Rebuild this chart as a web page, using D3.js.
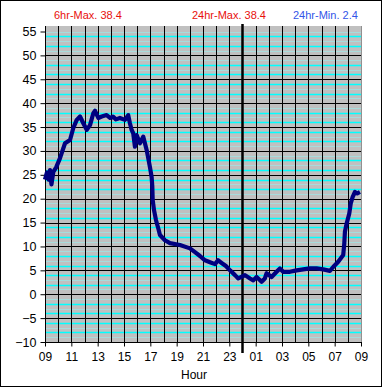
<!DOCTYPE html>
<html>
<head>
<meta charset="utf-8">
<script src="https://cdn.jsdelivr.net/npm/d3@7"></script>
<style>
  body { margin: 0; background: #fff; }
  svg { display: block; font-family: "Liberation Sans", Arial, sans-serif; }
</style>
</head>
<body>
<div id="chart"></div>
<script>
// hours since 09:00 and temperature readings
const hours = [0.00, 0.15, 0.27, 0.38, 0.49, 0.63, 0.84, 1.14, 1.52, 1.90, 2.15, 2.41, 2.66, 2.91, 3.17, 3.42,
  3.67, 3.80, 4.05, 4.31, 4.68, 4.94, 5.16, 5.39, 5.69, 6.07, 6.32, 6.45, 6.58, 6.70, 6.83, 6.96, 7.21, 7.46,
  7.59, 7.72, 7.84, 7.97, 8.10, 8.15, 8.18, 8.28, 8.43, 8.60, 8.73, 9.11, 9.49, 10.25, 11.01, 11.39, 11.77,
  12.15, 12.53, 12.91, 13.14, 13.44, 13.74, 14.05, 14.43, 14.68, 15.19, 15.57, 15.82, 16.07, 16.45, 16.70,
  16.83, 17.21, 17.59, 17.84, 18.09, 18.60, 19.11, 19.61, 20.12, 20.63, 21.13, 21.64, 21.89, 22.27, 22.65,
  22.73, 22.78, 22.91, 23.11, 23.22, 23.37, 23.54, 23.72, 23.92]
const temps = [24.0, 25.5, 24.0, 26.0, 23.0, 25.6, 26.5, 28.5, 31.6, 32.3, 34.8, 36.5, 37.2, 35.8, 34.4, 35.4,
  37.9, 38.4, 36.9, 37.2, 37.5, 36.9, 37.2, 36.6, 36.9, 36.5, 37.5, 35.8, 34.4, 33.7, 30.9, 33.3, 31.6, 33.0,
  31.6, 30.2, 28.5, 26.6, 24.5, 22.5, 19.7, 17.6, 15.5, 13.8, 12.4, 11.3, 10.7, 10.3, 9.6, 8.8, 8.0,
  7.1, 6.7, 6.3, 7.1, 6.5, 5.9, 5.0, 4.0, 3.3, 4.0, 3.3, 2.9, 3.6, 2.6, 3.3,
  4.4, 3.6, 4.7, 5.4, 4.7, 4.7, 5.0, 5.2, 5.4, 5.4, 5.2, 4.9, 5.7, 6.8, 8.2,
  10.6, 13.1, 14.8, 16.9, 19.0, 20.4, 21.4, 21.1, 21.4]

const xTickHours = [0, 2, 4, 6, 8, 10, 12, 14, 16, 18, 20, 22, 24]
const xTickLabels = ["09", "11", "13", "15", "17", "19", "21", "23", "01", "03", "05", "07", "09"]
const yTicks = [-10, -5, 0, 5, 10, 15, 20, 25, 30, 35, 40, 45, 50, 55]
const midnight = 15

const headers = [
  { text: "6hr-Max. 38.4", x: 54, color: "#e8100c" },
  { text: "24hr-Max. 38.4", x: 192, color: "#e8100c" },
  { text: "24hr-Min. 2.4", x: 293, color: "#3355e8" },
]

const width = 385, height = 388
const plot = { left: 45, right: 361, top: 26, bottom: 342 }

const svg = d3.select("#chart").append("svg")
  .attr("width", width)
  .attr("height", height)

svg.append("rect")
  .attr("x", 0.5).attr("y", 0.5)
  .attr("width", 381).attr("height", 386)
  .attr("fill", "#fff").attr("stroke", "#000")

const x = d3.scaleLinear().domain([0, 24]).range([plot.left, plot.right])
const y = d3.scaleLinear().domain([-10, 55]).range([plot.bottom, 31.5])

// plot background
svg.append("rect")
  .attr("x", plot.left).attr("y", plot.top)
  .attr("width", plot.right - plot.left).attr("height", plot.bottom - plot.top)
  .attr("fill", "#c0c0c0")

// minor horizontal lines
const minor = d3.range(-9, 56).filter(v => v % 5 !== 0 || v === 55)
svg.append("g")
  .selectAll("line")
  .data(minor)
  .join("line")
    .attr("x1", plot.left).attr("x2", plot.right)
    .attr("y1", d => Math.round(y(d)) + 0.5).attr("y2", d => Math.round(y(d)) + 0.5)
    .attr("stroke", d => d % 2 === 0 ? "#00ffff" : "#a8dcdc")
    .attr("stroke-width", d => d % 2 === 0 ? 1.5 : 1)

// major horizontal lines
svg.append("g")
  .selectAll("line")
  .data(yTicks.filter(v => v > -10 && v < 55))
  .join("line")
    .attr("x1", plot.left).attr("x2", plot.right)
    .attr("y1", d => Math.round(y(d)) + 0.5).attr("y2", d => Math.round(y(d)) + 0.5)
    .attr("stroke", "#000")

// vertical hour lines
svg.append("g")
  .selectAll("line")
  .data(d3.range(1, 24).filter(h => h !== midnight))
  .join("line")
    .attr("x1", d => Math.round(x(d)) + 0.5).attr("x2", d => Math.round(x(d)) + 0.5)
    .attr("y1", plot.top).attr("y2", plot.bottom)
    .attr("stroke", "#000")

// right edge
svg.append("line")
  .attr("x1", plot.right + 0.5).attr("x2", plot.right + 0.5)
  .attr("y1", plot.top).attr("y2", plot.bottom)
  .attr("stroke", "#909090")

// axes
const yAxis = d3.axisLeft(y).tickValues(yTicks).tickSize(5).tickPadding(4)
svg.append("g")
  .attr("transform", `translate(${plot.left + 0.5},0)`)
  .call(yAxis)
  .call(g => g.select(".domain").attr("d", `M0,${plot.top}V${plot.bottom}`).attr("stroke", "#000"))
  .call(g => g.selectAll("text").attr("font-size", 12.5).attr("font-family", "Liberation Sans, Arial").attr("fill", "#000"))

const xAxis = d3.axisBottom(x).tickValues(xTickHours)
  .tickFormat((d, i) => xTickLabels[i]).tickSize(4).tickPadding(6)
svg.append("g")
  .attr("transform", `translate(0,${plot.bottom + 0.5})`)
  .call(xAxis)
  .call(g => g.select(".domain").attr("d", `M${plot.left},0H${plot.right + 1}`).attr("stroke", "#000"))
  .call(g => g.selectAll("text").attr("font-size", 12).attr("font-family", "Liberation Sans, Arial").attr("fill", "#000"))

// midnight marker
svg.append("line")
  .attr("x1", x(midnight)).attr("x2", x(midnight))
  .attr("y1", 24).attr("y2", 353)
  .attr("stroke", "#000").attr("stroke-width", 2.5)

// temperature trace
const data = hours.map((h, i) => ({ h, t: temps[i] }))
svg.append("path")
  .datum(data)
  .attr("fill", "none")
  .attr("stroke", "#000080")
  .attr("stroke-width", 4.2)
  .attr("stroke-linejoin", "round")
  .attr("d", d3.line().x(d => x(d.h)).y(d => y(d.t)))

// header text
svg.append("g")
  .selectAll("text")
  .data(headers)
  .join("text")
    .attr("x", d => d.x).attr("y", 19)
    .attr("font-size", 11)
    .attr("fill", d => d.color)
    .text(d => d.text)

svg.append("text")
  .attr("x", 194).attr("y", 379)
  .attr("text-anchor", "middle")
  .attr("font-size", 12)
  .text("Hour")
</script>
</body>
</html>
